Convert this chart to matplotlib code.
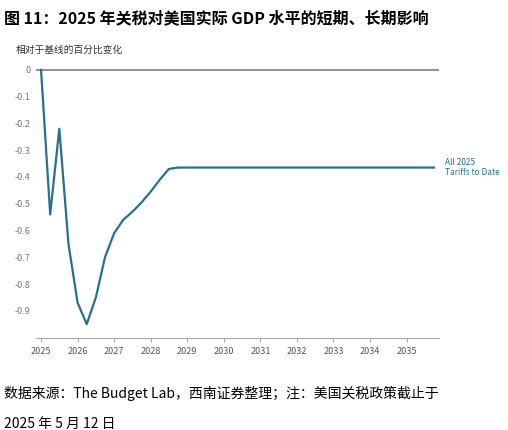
import matplotlib
matplotlib.use("Agg")
import matplotlib.pyplot as plt

plt.rcParams['font.family'] = ['Noto Sans CJK SC', 'DejaVu Sans']

quarters = [2025.0, 2025.25, 2025.5, 2025.75, 2026.0, 2026.25, 2026.5, 2026.75,
            2027.0, 2027.25, 2027.5, 2027.75, 2028.0, 2028.25, 2028.5, 2028.75,
            2029.0, 2030.0, 2031.0, 2032.0, 2033.0, 2034.0, 2035.0, 2035.75]
values = [0.0, -0.54, -0.22, -0.65, -0.87, -0.95, -0.85, -0.70,
          -0.61, -0.56, -0.53, -0.495, -0.455, -0.41, -0.37, -0.365,
          -0.365, -0.365, -0.365, -0.365, -0.365, -0.365, -0.365, -0.365]
year_ticks = list(range(2025, 2036))
y_ticks = [0, -0.1, -0.2, -0.3, -0.4, -0.5, -0.6, -0.7, -0.8, -0.9]
series_label = "All 2025\nTariffs to Date"

fig = plt.figure(figsize=(5.08, 4.30), dpi=100)
fig.text(0.008, 0.975, "图 11：2025 年关税对美国实际 GDP 水平的短期、长期影响",
         fontsize=11.5, fontweight='bold', va='top', ha='left')
fig.text(0.03, 0.895, "相对于基线的百分比变化", fontsize=7, color='#333333', va='top')

ax = fig.add_axes([0.07, 0.215, 0.795, 0.635])
ax.plot(quarters, values, color='#2b6f8c', lw=1.6)
ax.axhline(0, color='#888888', lw=1.3, zorder=0)
ax.set_xlim(2024.85, 2035.9)
ax.set_ylim(-1.0, 0.02)
ax.set_xticks(year_ticks)
ax.set_xticklabels([str(y) for y in year_ticks], fontsize=6.5, color='#555555')
ax.set_yticks(y_ticks)
ax.set_yticklabels(["0" if v == 0 else f"{v:.1f}" for v in y_ticks], fontsize=6.5, color='#777777')
for s in ['top', 'right', 'left']:
    ax.spines[s].set_visible(False)
ax.spines['bottom'].set_color('#aaaaaa')
ax.tick_params(axis='y', length=0)
ax.tick_params(axis='x', length=3, color='#aaaaaa')
ax.text(quarters[-1] + 0.3, values[-1], series_label, fontsize=6, color='#2b6f8c',
        va='center', ha='left', clip_on=False)

fig.text(0.008, 0.085, "数据来源：The Budget Lab，西南证券整理；注：美国关税政策截止于",
         fontsize=10, style='italic', va='center')
fig.text(0.008, 0.015, "2025 年 5 月 12 日", fontsize=10, style='italic', va='center')

fig.savefig("out.png", dpi=100)
